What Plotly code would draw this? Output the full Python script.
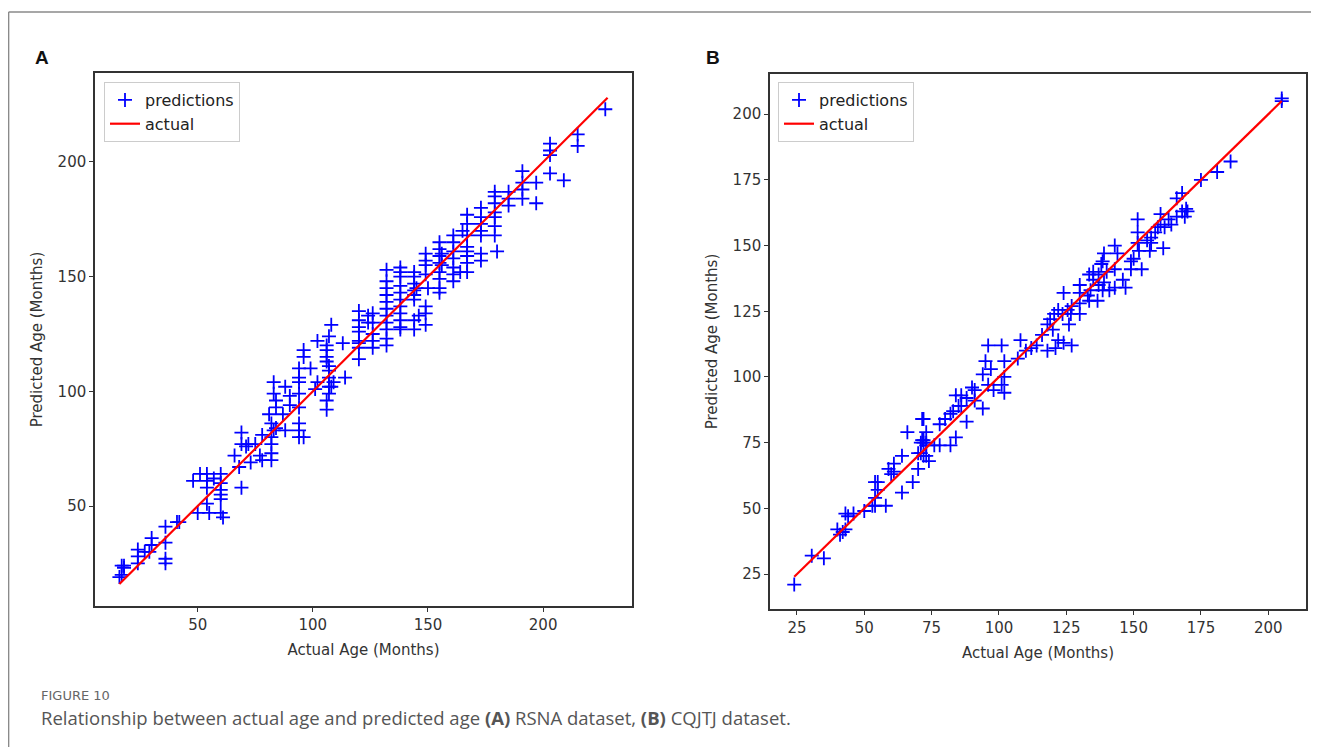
import plotly.graph_objects as go

# RSNA dataset (panel A): actual age vs predicted age, months
rsna_actual = [16, 17, 18, 18, 17, 24, 24, 24, 27, 30, 30, 29, 36, 36, 36, 36, 42, 41,
               48, 50, 51, 54, 54, 54, 54, 55, 57, 60, 60, 60, 60, 60, 60, 61,
               66, 68, 69, 69, 69, 71, 72, 73, 75, 77, 78, 78,
               81, 82, 82, 82, 82, 82, 83, 84, 83, 83, 84, 84, 87, 88, 88, 90, 90,
               94, 94, 94, 94, 94, 94, 96, 101, 106, 106, 107, 108,
               108, 107, 106, 106, 106, 106, 107, 107, 107, 107,
               102, 96, 96, 99, 94, 94, 113, 114, 102, 109,
               120, 120, 120, 120, 120, 120, 120, 120, 124, 124,
               126, 126, 126, 126, 126,
               132, 132, 132, 132, 132, 132, 132, 132, 132, 132, 132,
               138, 138, 138, 138, 138, 138, 138, 138, 138, 138, 138,
               144, 144, 144, 144, 144, 144, 144, 144, 145,
               149, 149, 149, 149, 150, 149, 149, 149, 146,
               155, 155, 155, 155, 155, 155, 155, 155, 156, 156,
               161, 161, 161, 161, 161, 161, 161,
               167, 167, 167, 167, 167, 167, 167, 167, 164, 165,
               173, 173, 173, 173, 173, 173, 173,
               179, 179, 179, 179, 179, 179, 179, 180,
               185, 185, 185, 191, 191, 191, 191, 197, 197,
               203, 203, 203, 203, 209, 215, 215, 227]
rsna_pred = [19, 24, 24, 23, 20, 31, 28, 25, 30, 36, 33, 30, 41, 34, 27, 25, 43, 43,
             61, 47, 64, 64, 61, 58, 51, 47, 62, 64, 60, 57, 55, 53, 47, 45,
             72, 67, 58, 82, 77, 76, 77, 69, 77, 72, 70, 81,
             90, 86, 80, 77, 73, 70, 83, 84, 104, 99, 96, 93, 90, 102, 83, 98, 94,
             104, 99, 93, 86, 83, 80, 80, 101, 92, 96, 99, 102,
             129, 124, 120, 118, 115, 113, 111, 109, 106, 102,
             122, 118, 115, 110, 110, 106, 121, 106, 104, 104,
             135, 131, 128, 126, 122, 121, 114, 119, 133, 130,
             134, 130, 125, 122, 119,
             153, 148, 145, 142, 139, 136, 133, 130, 127, 123, 120,
             154, 152, 150, 146, 143, 140, 137, 134, 131, 128, 127,
             152, 150, 147, 144, 142, 140, 131, 127, 145,
             160, 157, 155, 151, 145, 137, 134, 129, 133,
             165, 162, 159, 156, 152, 149, 145, 143, 160, 155,
             168, 165, 161, 158, 154, 151, 148,
             177, 173, 168, 163, 161, 159, 156, 152, 152, 170,
             180, 176, 173, 170, 168, 160, 157,
             187, 185, 182, 178, 176, 172, 168, 161,
             187, 184, 181, 196, 191, 188, 184, 191, 182,
             208, 205, 203, 195, 192, 212, 207, 223]
rsna_line = [16, 228]

# CQJTJ dataset (panel B)
cqjtj_actual = [24, 30.5, 35, 40, 41, 42, 43, 43, 44, 46, 50, 53, 54, 54, 55, 54, 55, 58,
                59, 60, 61, 61, 64, 64, 68, 70, 70, 71, 72, 73, 74, 73, 76, 78, 82, 84,
                66, 73, 71.5, 72, 71.5, 72, 73, 71, 72,
                78, 80, 82, 83, 84, 86, 85, 86, 88, 88, 90, 91, 91, 94, 94, 95, 97, 98,
                96, 96, 101, 102, 102, 102, 101, 108, 107, 110, 112, 114,
                205, 205, 186, 181, 175, 168, 166, 169.5, 168, 170, 169, 166, 163, 160,
                160, 164, 161.5, 159, 158, 156.5, 155, 156.5, 161, 156, 151.5, 151.5,
                151.5, 152, 150, 149, 153, 149,
                143, 144, 139, 138.5, 138, 143, 143, 140, 137, 135, 133.5, 135, 137,
                138.5, 139, 134, 130, 130, 133, 133.5, 136.6, 130, 127, 125.5, 123.6,
                124, 122, 120.5, 126.7, 130, 119, 118, 126,
                124, 127, 122, 146, 147, 141, 116, 120, 118, 121]
cqjtj_pred = [21, 32, 31, 42, 40, 41, 42, 48, 47, 48, 49, 51, 51, 54, 57, 60, 60, 51,
              65, 63, 64, 67, 70, 56, 60, 71, 65, 75, 76, 70, 68, 74, 74, 74, 74, 77,
              79, 79, 84, 84, 76, 75, 75, 71, 70,
              82, 84, 86, 87, 93, 93, 89, 89, 83, 92, 96, 95, 91, 88, 101, 106, 103, 95,
              97, 112, 112, 106, 100, 94, 97, 114, 107, 110, 111, 112,
              206, 205, 182, 178, 175, 170, 168, 164, 163, 163, 161, 161, 160, 162,
              158, 158, 157, 157, 155, 153, 152, 151, 149, 148, 160, 155,
              151, 148, 145, 144, 141, 141,
              150, 147, 147, 144, 143, 141, 134, 140, 139, 140, 139, 137, 135,
              133, 136, 133, 135, 132, 131, 129, 129, 128, 127, 125.5, 124,
              132, 125.5, 124, 124, 124, 122, 120, 120,
              113, 112, 114, 137, 134, 133, 116, 118, 110, 111]
cqjtj_line = [24, 205]

# the page puts the figure 8px in from the top-left corner of the window
OFF = 8
W, H = 1319 - OFF, 747 - OFF
BLUE = "#0000ff"
RED = "#ff0000"
AX = "#333333"
TICKFONT = dict(family="DejaVu Sans", size=15, color="#333333")
TITLEFONT = dict(family="DejaVu Sans", size=15, color="#333333")


def px_x(p):
    # window pixel -> paper fraction
    return (p - OFF) / W


def px_y(p):
    return 1 - (p - OFF) / H


fig = go.Figure()

marker = dict(symbol="cross-thin", size=10, color=BLUE, line=dict(width=1.8, color=BLUE))

fig.add_trace(go.Scatter(x=rsna_actual, y=rsna_pred, mode="markers", name="predictions",
                         marker=marker, xaxis="x", yaxis="y", legend="legend"))
fig.add_trace(go.Scatter(x=rsna_line, y=rsna_line, mode="lines", name="actual",
                         line=dict(color=RED, width=2.2), xaxis="x", yaxis="y", legend="legend"))
fig.add_trace(go.Scatter(x=cqjtj_actual, y=cqjtj_pred, mode="markers", name="predictions",
                         marker=marker, xaxis="x2", yaxis="y2", legend="legend2"))
fig.add_trace(go.Scatter(x=cqjtj_line, y=cqjtj_line, mode="lines", name="actual",
                         line=dict(color=RED, width=2.2), xaxis="x2", yaxis="y2", legend="legend2"))

axis_style = dict(showline=True, mirror=True, linecolor=AX, linewidth=1.5, ticks="outside",
                  ticklen=4, tickwidth=1.2, tickcolor=AX, showgrid=False, zeroline=False,
                  tickfont=TICKFONT)
legend_style = dict(xanchor="left", yanchor="top", bgcolor="white", bordercolor="#cccccc",
                    borderwidth=1, font=dict(family="DejaVu Sans", size=16, color="#222222"),
                    tracegroupgap=0)

fig.update_layout(
    width=W, height=H,
    margin=dict(l=0, r=0, t=0, b=0),
    paper_bgcolor="white", plot_bgcolor="white",
    xaxis=dict(domain=[px_x(95), px_x(632)], range=[5.4, 238.6], tick0=0, dtick=50,
               anchor="y", title=dict(text="Actual Age (Months)", font=TITLEFONT, standoff=12),
               **axis_style),
    yaxis=dict(domain=[px_y(606), px_y(73)], range=[6.4, 238.8], tick0=0, dtick=50,
               anchor="x", title=dict(text="Predicted Age (Months)", font=TITLEFONT, standoff=11),
               **axis_style),
    xaxis2=dict(domain=[px_x(770), px_x(1306)], range=[15, 214], tick0=0, dtick=25,
                anchor="y2", title=dict(text="Actual Age (Months)", font=TITLEFONT, standoff=12),
                **axis_style),
    yaxis2=dict(domain=[px_y(609), px_y(74)], range=[11.7, 215.3], tick0=0, dtick=25,
                anchor="x2", title=dict(text="Predicted Age (Months)", font=TITLEFONT, standoff=11),
                **axis_style),
    legend=dict(x=px_x(104), y=px_y(82), **legend_style),
    legend2=dict(x=px_x(778), y=px_y(82), **legend_style),
    showlegend=True,
)

# outer frame of the figure box
fig.add_shape(type="line", xref="paper", yref="paper", x0=0.6 / W, y0=0, x1=0.6 / W, y1=px_y(12),
              line=dict(color="#8a8a8a", width=1.5))
fig.add_shape(type="line", xref="paper", yref="paper", x0=0.6 / W, y0=px_y(12), x1=1, y1=px_y(12),
              line=dict(color="#8a8a8a", width=1.5))

# panel letters
fig.add_annotation(text="<b>A</b>", xref="paper", yref="paper", x=px_x(33), y=px_y(58),
                   xanchor="left", yanchor="middle", showarrow=False,
                   font=dict(family="Liberation Sans", size=19, color="#111111"))
fig.add_annotation(text="<b>B</b>", xref="paper", yref="paper", x=px_x(704), y=px_y(58),
                   xanchor="left", yanchor="middle", showarrow=False,
                   font=dict(family="Liberation Sans", size=19, color="#111111"))

# caption
fig.add_annotation(text="FIGURE 10", xref="paper", yref="paper", x=px_x(39), y=px_y(695),
                   xanchor="left", yanchor="middle", showarrow=False,
                   font=dict(family="DejaVu Sans", size=13, color="#666666"))
fig.add_annotation(text="Relationship between actual age and predicted age <b>(A)</b> RSNA dataset, "
                        "<b>(B)</b> CQJTJ dataset.",
                   xref="paper", yref="paper", x=px_x(39), y=px_y(717),
                   xanchor="left", yanchor="middle", showarrow=False,
                   font=dict(family="Open Sans", size=18.5, color="#555555"))

fig.write_html("out.html")
